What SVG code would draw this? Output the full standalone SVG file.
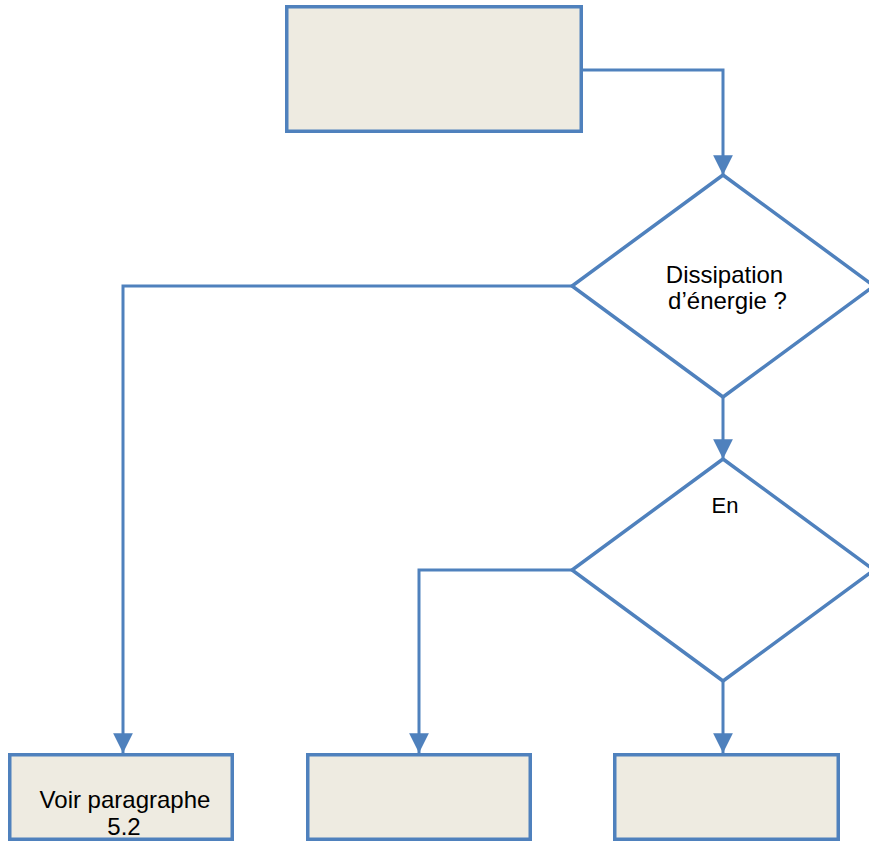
<svg xmlns="http://www.w3.org/2000/svg" width="869" height="843" viewBox="0 0 869 843">
<style>
.box{fill:#eeebe1;stroke:#4f81bd;stroke-width:3.5}
.dia{fill:#ffffff;stroke:#4f81bd;stroke-width:3.5}
.con{fill:none;stroke:#4f81bd;stroke-width:3}
.t{font-family:"Liberation Sans",Arial,sans-serif;font-size:24px;fill:#000;text-anchor:middle}
</style>
<defs>
<marker id="arr" markerUnits="userSpaceOnUse" markerWidth="22" markerHeight="20" viewBox="0 0 20 18" refX="18" refY="9" orient="auto">
<path d="M0,0 L18,9 L0,18 Z" fill="#4f81bd"/>
</marker>
</defs>
<rect width="869" height="843" fill="#ffffff"/>
<g id="connectors">
<polyline class="con" points="583,70 723,70 723,175" marker-end="url(#arr)"/>
<polyline class="con" points="572,286 123,286 123,753" marker-end="url(#arr)"/>
<polyline class="con" points="723,397 723,459" marker-end="url(#arr)"/>
<polyline class="con" points="572,570 419,570 419,753" marker-end="url(#arr)"/>
<polyline class="con" points="723,681 723,753" marker-end="url(#arr)"/>
</g>
<g id="start">
<rect class="box" x="286.75" y="6.75" width="294.5" height="124.5"/>
</g>
<g id="decision1">
<polygon class="dia" points="723,175 874,286 723,397 572,286"/>
<text class="t" x="724.5" y="283">Dissipation</text>
<text class="t" x="727.5" y="309">d’énergie ?</text>
</g>
<g id="decision2">
<polygon class="dia" points="723,459 874,570 723,681 572,570"/>
<text class="t" style="font-size:22px" x="725" y="513">En</text>
</g>
<g id="box-voir">
<rect class="box" x="9.75" y="754.75" width="222.5" height="84.5"/>
<text class="t" x="125" y="808">Voir paragraphe</text>
<text class="t" x="124" y="835">5.2</text>
</g>
<g id="box-middle">
<rect class="box" x="307.75" y="754.75" width="222.5" height="84.5"/>
</g>
<g id="box-right">
<rect class="box" x="614.75" y="754.75" width="223.5" height="84.5"/>
</g>
</svg>
